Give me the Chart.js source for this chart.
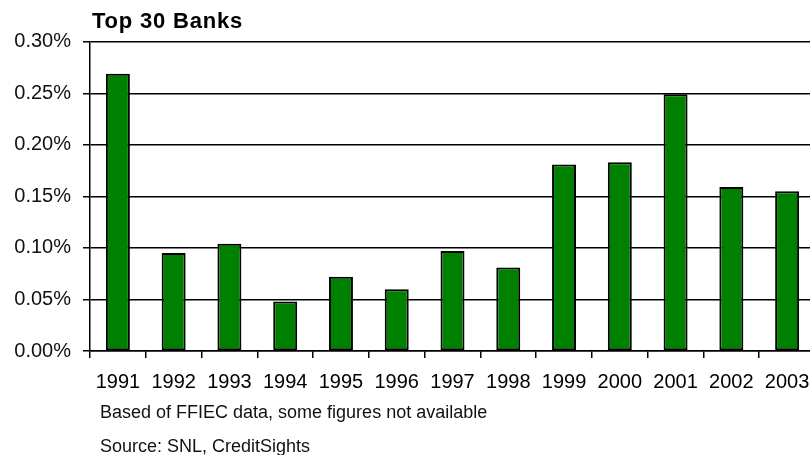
<!DOCTYPE html>
<html>
<head>
<meta charset="utf-8">
<script src="https://cdn.jsdelivr.net/npm/chart.js@4/dist/chart.umd.min.js"></script>
<style>
  html, body { margin: 0; padding: 0; background: #fff; overflow: hidden; width: 810px; height: 455px; }
  #wrap { position: relative; width: 810px; height: 455px; overflow: hidden; }
  canvas { position: absolute; left: 0; top: 0; }
  .txt { position: absolute; white-space: nowrap; font-family: "Liberation Sans", Arial, sans-serif; color: #000; }
  #heading { left: 92px; top: 9.7px; font-size: 22px; line-height: 22px; font-weight: bold; letter-spacing: 0.8px; }
  .note { left: 100px; font-size: 18px; line-height: 18px; color: #111; }
  #note1 { top: 402.8px; }
  #note2 { top: 436.8px; }
</style>
</head>
<body>
<div id="wrap">
  <canvas id="chart" width="830" height="455"></canvas>
  <div class="txt" id="heading">Top 30 Banks</div>
  <div class="txt note" id="note1">Based of FFIEC data, some figures not available</div>
  <div class="txt note" id="note2">Source: SNL, CreditSights</div>
</div>
<script>
// Years on the category axis
const years = ['1991', '1992', '1993', '1994', '1995', '1996', '1997', '1998', '1999', '2000', '2001', '2002', '2003'];
// Ratio per year, in percent
const ratioPct = [0.269, 0.095, 0.104, 0.048, 0.072, 0.060, 0.097, 0.081, 0.181, 0.183, 0.249, 0.159, 0.155];
// Value axis range and step, in percent
const yMin = 0;
const yMax = 0.30;
const yStep = 0.05;

Chart.defaults.font.family = '"Liberation Sans", Arial, sans-serif';
Chart.defaults.color = '#000';

new Chart(document.getElementById('chart'), {
  type: 'bar',
  data: {
    labels: years,
    datasets: [{
      data: ratioPct,
      backgroundColor: '#008000',
      borderColor: '#000',
      borderWidth: 2,
      borderSkipped: false,
      categoryPercentage: 1,
      barPercentage: 0.43
    }]
  },
  options: {
    responsive: false,
    animation: false,
    devicePixelRatio: 1,
    layout: { padding: { top: 41.7, right: 15, left: 0, bottom: 0 } },
    plugins: { legend: { display: false }, tooltip: { enabled: false }, title: { display: false } },
    scales: {
      x: {
        offset: true,
        grid: { offset: true, drawOnChartArea: false, drawTicks: true, tickLength: 7, color: '#000', lineWidth: 1.5 },
        border: { display: true, color: '#000', width: 1.5 },
        ticks: { font: { size: 20 }, color: '#000', padding: 12, maxRotation: 0, autoSkip: false },
        afterFit: (s) => { s.height = 104; }
      },
      y: {
        min: yMin,
        max: yMax,
        grid: { color: '#000', lineWidth: 1.5, drawTicks: true, tickLength: 7 },
        border: { display: true, color: '#000', width: 1.5 },
        ticks: {
          stepSize: yStep,
          font: { size: 20 },
          color: '#111',
          padding: 12,
          callback: (v) => v.toFixed(2) + '%'
        },
        afterFit: (s) => { s.width = 90; }
      }
    }
  }
});
</script>
</body>
</html>
